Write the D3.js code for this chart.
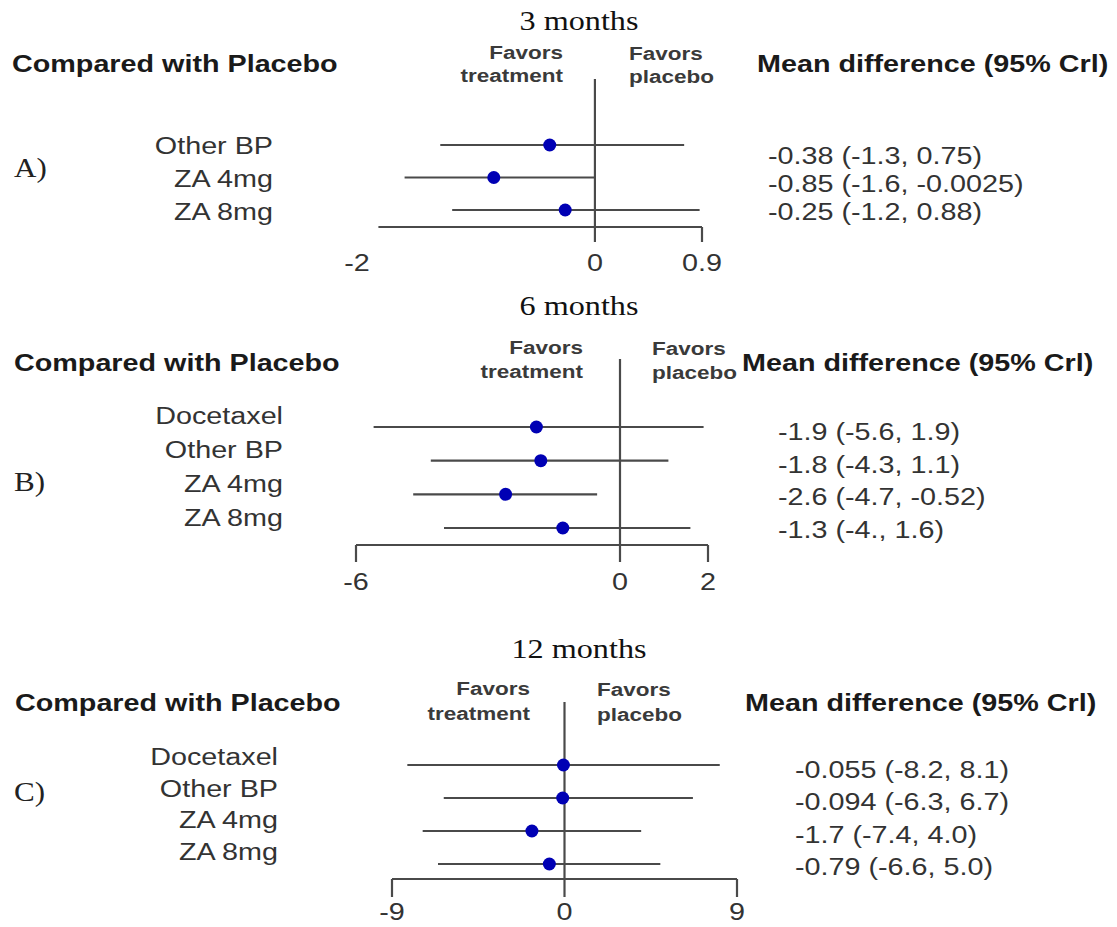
<!DOCTYPE html>
<html>
<head>
<meta charset="utf-8">
<script src="https://cdn.jsdelivr.net/npm/d3@7"></script>
<style>
  body { margin: 0; background: #fff; }
  svg { display: block; }
</style>
</head>
<body>
<div id="chart"></div>
<script>
// dati
const titles = ["3 months", "6 months", "12 months"];
const letters = ["A)", "B)", "C)"];

const labelsA = ["Other BP", "ZA 4mg", "ZA 8mg"];
const meanA = [-0.38, -0.85, -0.25];
const lowA = [-1.3, -1.6, -1.2];
const highA = [0.75, -0.0025, 0.88];
const textA = ["-0.38 (-1.3, 0.75)", "-0.85 (-1.6, -0.0025)", "-0.25 (-1.2, 0.88)"];
const ticksA = [-2, 0, 0.9];

const labelsB = ["Docetaxel", "Other BP", "ZA 4mg", "ZA 8mg"];
const meanB = [-1.9, -1.8, -2.6, -1.3];
const lowB = [-5.6, -4.3, -4.7, -4.0];
const highB = [1.9, 1.1, -0.52, 1.6];
const textB = ["-1.9 (-5.6, 1.9)", "-1.8 (-4.3, 1.1)", "-2.6 (-4.7, -0.52)", "-1.3 (-4., 1.6)"];
const ticksB = [-6, 0, 2];

const labelsC = ["Docetaxel", "Other BP", "ZA 4mg", "ZA 8mg"];
const meanC = [-0.055, -0.094, -1.7, -0.79];
const lowC = [-8.2, -6.3, -7.4, -6.6];
const highC = [8.1, 6.7, 4.0, 5.0];
const textC = ["-0.055 (-8.2, 8.1)", "-0.094 (-6.3, 6.7)", "-1.7 (-7.4, 4.0)", "-0.79 (-6.6, 5.0)"];
const ticksC = [-9, 0, 9];

// impaginazione dei tre pannelli
const layout = [
  { titleY: 20, favY: [53, 76], favTX: 563, favPX: 629, headY: 64, headLX: 12, headRX: 757,
    letterY: 168, rowY: [145, 210], labY: [146, 212], labR: 273, valY: [156, 212], valX: 768,
    xr: [357, 702], axisY: 227, axisFrom: -1.82, zeroTop: 79, tickBot: 242, tickLabY: 263, endTicks: [0.9] },
  { titleY: 305, favY: [348, 372], favTX: 583, favPX: 652, headY: 363, headLX: 14, headRX: 742,
    letterY: 482, rowY: [427, 528], labY: [416, 518], labR: 283, valY: [432, 530], valX: 778,
    xr: [356, 708], axisY: 545, axisFrom: null, zeroTop: 359, tickBot: 562, tickLabY: 582, endTicks: null },
  { titleY: 648, favY: [689, 714], favTX: 530, favPX: 597, headY: 703, headLX: 15, headRX: 745,
    letterY: 792, rowY: [765, 864], labY: [757, 852], labR: 278, valY: [770, 867], valX: 795,
    xr: [392, 737], axisY: 879, axisFrom: null, zeroTop: 702, tickBot: 897, tickLabY: 912, endTicks: null }
];

const panels = [
  { labels: labelsA, mean: meanA, low: lowA, high: highA, text: textA, ticks: ticksA },
  { labels: labelsB, mean: meanB, low: lowB, high: highB, text: textB, ticks: ticksB },
  { labels: labelsC, mean: meanC, low: lowC, high: highC, text: textC, ticks: ticksC }
];

const W = 1117, H = 927;
const SX = 1.25; // l'immagine originale e' allargata in orizzontale
const SANS = "'Liberation Sans', Arial, sans-serif";
const SERIF = "'Liberation Serif', 'Times New Roman', serif";
const LINE = "#4a4a4a";

const svg = d3.select("#chart").append("svg")
    .attr("width", W)
    .attr("height", H);

function label(g, str, x, y, opt) {
  return g.append("text")
      .attr("transform", `translate(${x},${y}) scale(${opt.sx || SX},1)`)
      .attr("dy", "0.35em")
      .attr("text-anchor", opt.anchor || "start")
      .attr("font-family", opt.family || SANS)
      .attr("font-size", opt.size || 23)
      .attr("font-weight", opt.weight || "normal")
      .attr("fill", opt.fill || "#333")
      .text(str);
}

panels.forEach((p, k) => {
  const L = layout[k];
  const g = svg.append("g");
  const ticks = p.ticks;
  const x = d3.scaleLinear().domain([ticks[0], ticks[ticks.length - 1]]).range(L.xr);
  const yRow = d3.scalePoint().domain(p.labels).range(L.rowY);
  const yLab = d3.scalePoint().domain(p.labels).range(L.labY);
  const yVal = d3.scalePoint().domain(p.labels).range(L.valY);

  // titolo e intestazioni
  label(g, titles[k], 579, L.titleY, { anchor: "middle", family: SERIF, size: 28, fill: "#111", sx: 1.15 });
  label(g, letters[k], 14, L.letterY, { family: SERIF, size: 27, fill: "#222", sx: 1.15 });
  label(g, "Compared with Placebo", L.headLX, L.headY, { weight: "bold", fill: "#1a1a1a" });
  label(g, "Mean difference (95% Crl)", L.headRX, L.headY, { weight: "bold", fill: "#1a1a1a" });

  label(g, "Favors", L.favTX, L.favY[0], { anchor: "end", weight: "bold", size: 18, fill: "#3a3a3a" });
  label(g, "treatment", L.favTX, L.favY[1], { anchor: "end", weight: "bold", size: 18, fill: "#3a3a3a" });
  label(g, "Favors", L.favPX, L.favY[0] + 1, { weight: "bold", size: 18, fill: "#3a3a3a" });
  label(g, "placebo", L.favPX, L.favY[1] + 1, { weight: "bold", size: 18, fill: "#3a3a3a" });

  // asse orizzontale
  const axisStart = L.axisFrom !== null ? L.axisFrom : ticks[0];
  g.append("line")
      .attr("x1", x(axisStart)).attr("x2", x(ticks[ticks.length - 1]))
      .attr("y1", L.axisY).attr("y2", L.axisY)
      .attr("stroke", LINE).attr("stroke-width", 2.2);
  const endTicks = L.endTicks || [ticks[0], ticks[ticks.length - 1]];
  g.selectAll(".endtick")
      .data(endTicks)
      .enter().append("line")
      .attr("x1", d => x(d)).attr("x2", d => x(d))
      .attr("y1", L.axisY).attr("y2", L.tickBot)
      .attr("stroke", LINE).attr("stroke-width", 2.2);
  g.append("line")
      .attr("x1", x(0)).attr("x2", x(0))
      .attr("y1", L.zeroTop).attr("y2", L.tickBot)
      .attr("stroke", LINE).attr("stroke-width", 2.2);
  ticks.forEach(t => {
    label(g, String(t), x(t), L.tickLabY, { anchor: "middle", size: 23, fill: "#333" });
  });

  // intervalli e punti
  g.selectAll(".ci")
      .data(p.labels)
      .enter().append("line")
      .attr("x1", (d, i) => x(p.low[i]))
      .attr("x2", (d, i) => x(p.high[i]))
      .attr("y1", d => yRow(d))
      .attr("y2", d => yRow(d))
      .attr("stroke", LINE).attr("stroke-width", 2.2);
  g.selectAll(".dot")
      .data(p.labels)
      .enter().append("circle")
      .attr("cx", (d, i) => x(p.mean[i]))
      .attr("cy", d => yRow(d))
      .attr("r", 6.5)
      .attr("fill", "#0000b4");

  // etichette righe e valori
  p.labels.forEach((d, i) => {
    label(g, d, L.labR, yLab(d), { anchor: "end", fill: "#333" });
    label(g, p.text[i], L.valX, yVal(d), { fill: "#333" });
  });
});
</script>
</body>
</html>
